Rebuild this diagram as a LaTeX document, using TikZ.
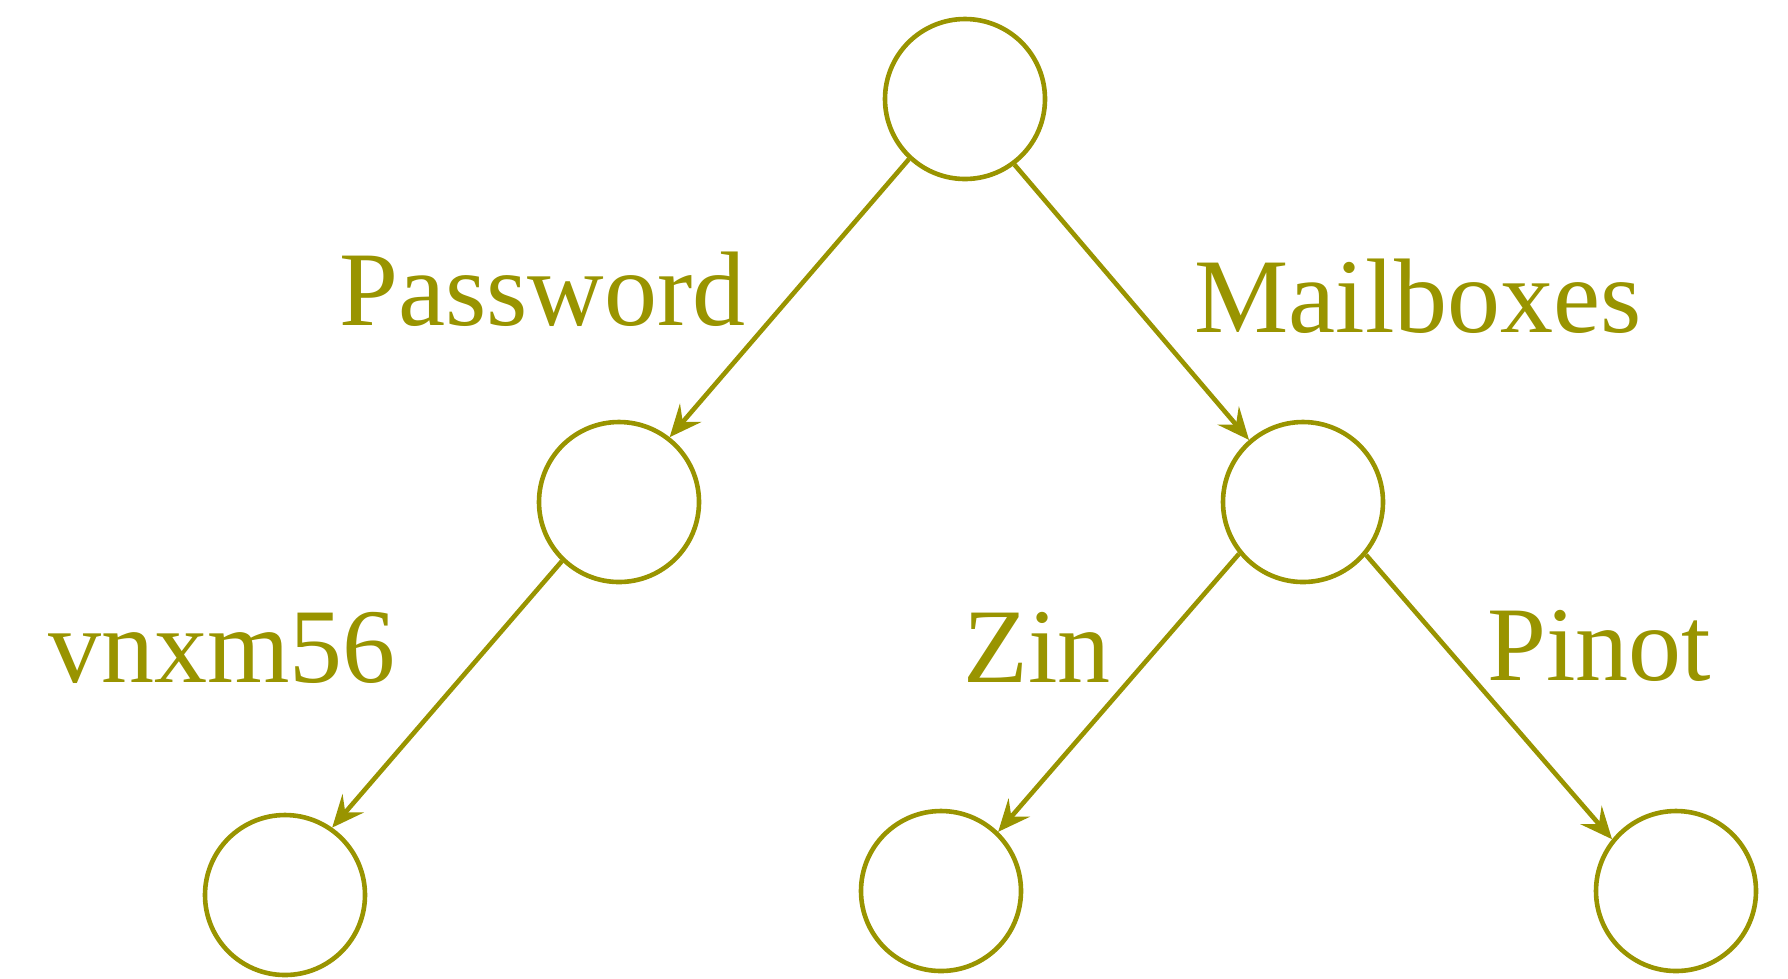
\documentclass[tikz,border=0pt]{standalone}
\usepackage{fontspec}
\setmainfont{Liberation Serif}
\usetikzlibrary{arrows.meta}
\definecolor{treeolive}{HTML}{999400}

\begin{document}
\begin{tikzpicture}[x=0.25pt, y=-0.25pt, line width=1.15pt, color=treeolive,
  >={Stealth[length=8pt, width=7pt, inset=3pt]},
  st/.style={circle, draw, minimum size=40pt, inner sep=0pt},
  lbl/.style={font=\fontsize{26.5pt}{30pt}\selectfont, inner sep=0pt, anchor=base west}]
  \useasboundingbox (0,0) rectangle (1788,978);
  \node[st] (s0) at (965,99) {};
  \node[st] (s1) at (619,502) {};
  \node[st] (s2) at (1303,502) {};
  \node[st] (s3) at (285,895) {};
  \node[st] (s4) at (941,891) {};
  \node[st] (s5) at (1676,891) {};

  \draw[->] (s0.227) -- (s1.52); \draw[->] (s0.307) -- (s2.131);
  \draw[->] (s1.226) -- (s3.55); \draw[->] (s2.219) -- (s4.46); \draw[->] (s2.320) -- (s5.141);

  \node[lbl] (l1) at (337,325) {Password};
  \node[lbl] (l2) at (1192,332) {Mailboxes};
  \node[lbl] (l3) at (46,682) {vnxm56};
  \node[lbl] (l4) at (961,682) {Zin};
  \node[lbl] (l5) at (1485,680) {Pinot};
\end{tikzpicture}
\end{document}
